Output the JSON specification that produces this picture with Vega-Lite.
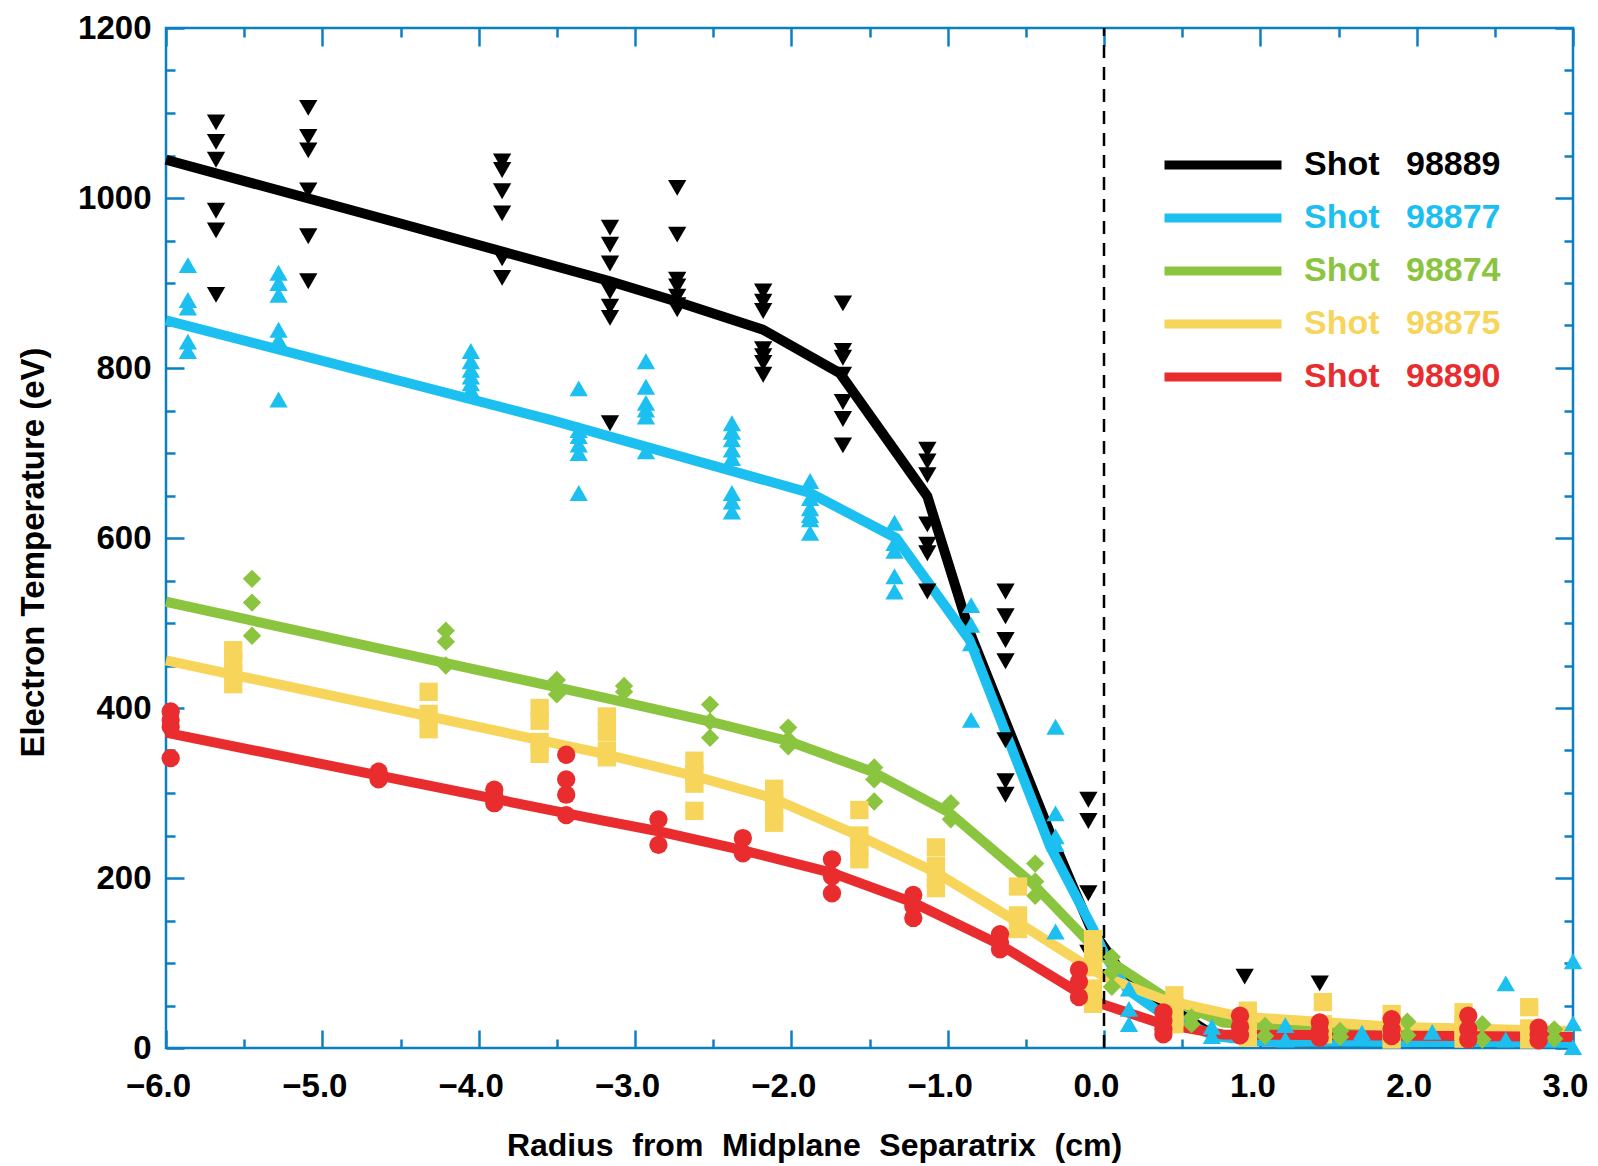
{
  "$schema": "https://vega.github.io/schema/vega-lite/v6.json",
  "width": 1407,
  "height": 1020,
  "autosize": {"type": "none"},
  "padding": {"left": 166, "top": 28, "right": 25, "bottom": 118},
  "background": "white",
  "config": {
    "font": "Liberation Sans",
    "view": {"stroke": "#0a7fc4", "strokeWidth": 2.5},
    "axis": {
      "domain": false,
      "grid": false,
      "tickColor": "#0a7fc4",
      "tickWidth": 2.5,
      "labelFont": "Liberation Sans",
      "labelFontSize": 33,
      "labelFontWeight": "bold",
      "labelColor": "#000000",
      "labelFlush": false,
      "titleFont": "Liberation Sans",
      "titleFontSize": 32,
      "titleFontWeight": "bold",
      "titleColor": "#000000"
    }
  },
  "datasets": {
    "fits": [
      {"shot": "98889", "r": -6.0, "te": 1045}, {"shot": "98889", "r": -4.5, "te": 970}, {"shot": "98889", "r": -3.16, "te": 902},
      {"shot": "98889", "r": -2.73, "te": 878}, {"shot": "98889", "r": -2.18, "te": 845}, {"shot": "98889", "r": -1.69, "te": 794},
      {"shot": "98889", "r": -1.13, "te": 649}, {"shot": "98889", "r": -0.86, "te": 490}, {"shot": "98889", "r": -0.345, "te": 253},
      {"shot": "98889", "r": -0.09, "te": 143}, {"shot": "98889", "r": 0.1, "te": 92}, {"shot": "98889", "r": 0.36, "te": 55},
      {"shot": "98889", "r": 0.7, "te": 15}, {"shot": "98889", "r": 1.0, "te": 8}, {"shot": "98889", "r": 3.0, "te": 6},

      {"shot": "98877", "r": -6.0, "te": 856}, {"shot": "98877", "r": -3.54, "te": 739}, {"shot": "98877", "r": -1.88, "te": 653},
      {"shot": "98877", "r": -1.33, "te": 600}, {"shot": "98877", "r": -0.86, "te": 480}, {"shot": "98877", "r": -0.345, "te": 237},
      {"shot": "98877", "r": -0.07, "te": 140}, {"shot": "98877", "r": 0.01, "te": 108}, {"shot": "98877", "r": 0.15, "te": 69},
      {"shot": "98877", "r": 0.35, "te": 43}, {"shot": "98877", "r": 0.71, "te": 14}, {"shot": "98877", "r": 1.0, "te": 8},
      {"shot": "98877", "r": 3.0, "te": 6},

      {"shot": "98874", "r": -6.0, "te": 525}, {"shot": "98874", "r": -3.22, "te": 413}, {"shot": "98874", "r": -2.52, "te": 384},
      {"shot": "98874", "r": -2.02, "te": 361}, {"shot": "98874", "r": -1.48, "te": 325}, {"shot": "98874", "r": -0.99, "te": 277},
      {"shot": "98874", "r": -0.46, "te": 194}, {"shot": "98874", "r": -0.11, "te": 127}, {"shot": "98874", "r": 0.03, "te": 103},
      {"shot": "98874", "r": 0.38, "te": 61}, {"shot": "98874", "r": 0.76, "te": 30}, {"shot": "98874", "r": 1.5, "te": 22},
      {"shot": "98874", "r": 3.0, "te": 18},

      {"shot": "98875", "r": -6.0, "te": 456}, {"shot": "98875", "r": -3.22, "te": 347}, {"shot": "98875", "r": -2.62, "te": 320},
      {"shot": "98875", "r": -2.12, "te": 294}, {"shot": "98875", "r": -1.56, "te": 249}, {"shot": "98875", "r": -1.07, "te": 206},
      {"shot": "98875", "r": -0.57, "te": 150}, {"shot": "98875", "r": -0.14, "te": 100}, {"shot": "98875", "r": 0.0, "te": 84},
      {"shot": "98875", "r": 0.38, "te": 57}, {"shot": "98875", "r": 0.87, "te": 37}, {"shot": "98875", "r": 1.85, "te": 25},
      {"shot": "98875", "r": 3.0, "te": 20},

      {"shot": "98890", "r": -6.0, "te": 371}, {"shot": "98890", "r": -3.22, "te": 268}, {"shot": "98890", "r": -2.85, "te": 255},
      {"shot": "98890", "r": -2.32, "te": 233}, {"shot": "98890", "r": -1.74, "te": 206}, {"shot": "98890", "r": -1.22, "te": 171},
      {"shot": "98890", "r": -0.67, "te": 122}, {"shot": "98890", "r": -0.16, "te": 65}, {"shot": "98890", "r": 0.0, "te": 51},
      {"shot": "98890", "r": 0.36, "te": 29}, {"shot": "98890", "r": 0.76, "te": 16}, {"shot": "98890", "r": 3.0, "te": 13}
    ],
    "meas": [
      {"shot": "98889", "r": -5.68, "te": 1089}, {"shot": "98889", "r": -5.68, "te": 1066}, {"shot": "98889", "r": -5.68, "te": 1045},
      {"shot": "98889", "r": -5.68, "te": 985}, {"shot": "98889", "r": -5.68, "te": 962}, {"shot": "98889", "r": -5.68, "te": 886},
      {"shot": "98889", "r": -5.09, "te": 1106}, {"shot": "98889", "r": -5.09, "te": 1072}, {"shot": "98889", "r": -5.09, "te": 1056},
      {"shot": "98889", "r": -5.09, "te": 1009}, {"shot": "98889", "r": -5.09, "te": 955}, {"shot": "98889", "r": -5.09, "te": 902},
      {"shot": "98889", "r": -3.85, "te": 1043}, {"shot": "98889", "r": -3.85, "te": 1033}, {"shot": "98889", "r": -3.85, "te": 1008},
      {"shot": "98889", "r": -3.85, "te": 982}, {"shot": "98889", "r": -3.85, "te": 929}, {"shot": "98889", "r": -3.85, "te": 906},
      {"shot": "98889", "r": -3.16, "te": 965}, {"shot": "98889", "r": -3.16, "te": 945}, {"shot": "98889", "r": -3.16, "te": 923},
      {"shot": "98889", "r": -3.16, "te": 890}, {"shot": "98889", "r": -3.16, "te": 872}, {"shot": "98889", "r": -3.16, "te": 859},
      {"shot": "98889", "r": -3.16, "te": 735},
      {"shot": "98889", "r": -2.73, "te": 1012}, {"shot": "98889", "r": -2.73, "te": 957}, {"shot": "98889", "r": -2.73, "te": 904},
      {"shot": "98889", "r": -2.73, "te": 896}, {"shot": "98889", "r": -2.73, "te": 884}, {"shot": "98889", "r": -2.73, "te": 874},
      {"shot": "98889", "r": -2.73, "te": 869},
      {"shot": "98889", "r": -2.18, "te": 890}, {"shot": "98889", "r": -2.18, "te": 878}, {"shot": "98889", "r": -2.18, "te": 867},
      {"shot": "98889", "r": -2.18, "te": 822}, {"shot": "98889", "r": -2.18, "te": 814}, {"shot": "98889", "r": -2.18, "te": 806},
      {"shot": "98889", "r": -2.18, "te": 792},
      {"shot": "98889", "r": -1.67, "te": 876}, {"shot": "98889", "r": -1.67, "te": 820}, {"shot": "98889", "r": -1.67, "te": 812},
      {"shot": "98889", "r": -1.67, "te": 792}, {"shot": "98889", "r": -1.67, "te": 760}, {"shot": "98889", "r": -1.67, "te": 740},
      {"shot": "98889", "r": -1.67, "te": 709},
      {"shot": "98889", "r": -1.13, "te": 704}, {"shot": "98889", "r": -1.13, "te": 690}, {"shot": "98889", "r": -1.13, "te": 674},
      {"shot": "98889", "r": -1.13, "te": 616}, {"shot": "98889", "r": -1.13, "te": 592}, {"shot": "98889", "r": -1.13, "te": 582},
      {"shot": "98889", "r": -1.13, "te": 537},
      {"shot": "98889", "r": -0.63, "te": 537}, {"shot": "98889", "r": -0.63, "te": 508}, {"shot": "98889", "r": -0.63, "te": 480},
      {"shot": "98889", "r": -0.63, "te": 455}, {"shot": "98889", "r": -0.63, "te": 362}, {"shot": "98889", "r": -0.63, "te": 314},
      {"shot": "98889", "r": -0.63, "te": 298},
      {"shot": "98889", "r": -0.1, "te": 292}, {"shot": "98889", "r": -0.1, "te": 267}, {"shot": "98889", "r": -0.1, "te": 182},
      {"shot": "98889", "r": -0.1, "te": 112},
      {"shot": "98889", "r": 0.45, "te": 48}, {"shot": "98889", "r": 0.9, "te": 84}, {"shot": "98889", "r": 1.38, "te": 76},

      {"shot": "98877", "r": -5.86, "te": 921}, {"shot": "98877", "r": -5.86, "te": 880}, {"shot": "98877", "r": -5.86, "te": 871},
      {"shot": "98877", "r": -5.86, "te": 831}, {"shot": "98877", "r": -5.86, "te": 820},
      {"shot": "98877", "r": -5.28, "te": 912}, {"shot": "98877", "r": -5.28, "te": 900}, {"shot": "98877", "r": -5.28, "te": 886},
      {"shot": "98877", "r": -5.28, "te": 845}, {"shot": "98877", "r": -5.28, "te": 833}, {"shot": "98877", "r": -5.28, "te": 763},
      {"shot": "98877", "r": -4.05, "te": 820}, {"shot": "98877", "r": -4.05, "te": 808}, {"shot": "98877", "r": -4.05, "te": 798},
      {"shot": "98877", "r": -4.05, "te": 790}, {"shot": "98877", "r": -4.05, "te": 782}, {"shot": "98877", "r": -4.05, "te": 774},
      {"shot": "98877", "r": -3.36, "te": 776}, {"shot": "98877", "r": -3.36, "te": 727}, {"shot": "98877", "r": -3.36, "te": 720},
      {"shot": "98877", "r": -3.36, "te": 710}, {"shot": "98877", "r": -3.36, "te": 700}, {"shot": "98877", "r": -3.36, "te": 653},
      {"shot": "98877", "r": -2.93, "te": 808}, {"shot": "98877", "r": -2.93, "te": 778}, {"shot": "98877", "r": -2.93, "te": 759},
      {"shot": "98877", "r": -2.93, "te": 751}, {"shot": "98877", "r": -2.93, "te": 743}, {"shot": "98877", "r": -2.93, "te": 702},
      {"shot": "98877", "r": -2.38, "te": 735}, {"shot": "98877", "r": -2.38, "te": 725}, {"shot": "98877", "r": -2.38, "te": 716},
      {"shot": "98877", "r": -2.38, "te": 704}, {"shot": "98877", "r": -2.38, "te": 694}, {"shot": "98877", "r": -2.38, "te": 653},
      {"shot": "98877", "r": -2.38, "te": 643}, {"shot": "98877", "r": -2.38, "te": 631},
      {"shot": "98877", "r": -1.88, "te": 667}, {"shot": "98877", "r": -1.88, "te": 647}, {"shot": "98877", "r": -1.88, "te": 635},
      {"shot": "98877", "r": -1.88, "te": 627}, {"shot": "98877", "r": -1.88, "te": 622}, {"shot": "98877", "r": -1.88, "te": 606},
      {"shot": "98877", "r": -1.34, "te": 618}, {"shot": "98877", "r": -1.34, "te": 594}, {"shot": "98877", "r": -1.34, "te": 585},
      {"shot": "98877", "r": -1.34, "te": 555}, {"shot": "98877", "r": -1.34, "te": 537},
      {"shot": "98877", "r": -0.85, "te": 521}, {"shot": "98877", "r": -0.85, "te": 498}, {"shot": "98877", "r": -0.85, "te": 476},
      {"shot": "98877", "r": -0.85, "te": 386},
      {"shot": "98877", "r": -0.31, "te": 378}, {"shot": "98877", "r": -0.31, "te": 276}, {"shot": "98877", "r": -0.31, "te": 249},
      {"shot": "98877", "r": -0.31, "te": 240}, {"shot": "98877", "r": -0.31, "te": 137},
      {"shot": "98877", "r": 0.16, "te": 70}, {"shot": "98877", "r": 0.16, "te": 46}, {"shot": "98877", "r": 0.16, "te": 28},
      {"shot": "98877", "r": 0.69, "te": 25}, {"shot": "98877", "r": 0.69, "te": 14},
      {"shot": "98877", "r": 1.16, "te": 27}, {"shot": "98877", "r": 1.16, "te": 10},
      {"shot": "98877", "r": 1.65, "te": 18}, {"shot": "98877", "r": 1.65, "te": 12},
      {"shot": "98877", "r": 2.1, "te": 19},
      {"shot": "98877", "r": 2.57, "te": 76}, {"shot": "98877", "r": 2.57, "te": 10},
      {"shot": "98877", "r": 3.0, "te": 102}, {"shot": "98877", "r": 3.0, "te": 29}, {"shot": "98877", "r": 3.0, "te": 1},

      {"shot": "98874", "r": -5.45, "te": 552}, {"shot": "98874", "r": -5.45, "te": 524}, {"shot": "98874", "r": -5.45, "te": 485},
      {"shot": "98874", "r": -4.21, "te": 491}, {"shot": "98874", "r": -4.21, "te": 478}, {"shot": "98874", "r": -4.21, "te": 450},
      {"shot": "98874", "r": -3.5, "te": 433}, {"shot": "98874", "r": -3.5, "te": 424}, {"shot": "98874", "r": -3.5, "te": 416},
      {"shot": "98874", "r": -3.07, "te": 426}, {"shot": "98874", "r": -3.07, "te": 419},
      {"shot": "98874", "r": -2.52, "te": 404}, {"shot": "98874", "r": -2.52, "te": 384}, {"shot": "98874", "r": -2.52, "te": 365},
      {"shot": "98874", "r": -2.02, "te": 377}, {"shot": "98874", "r": -2.02, "te": 363}, {"shot": "98874", "r": -2.02, "te": 355},
      {"shot": "98874", "r": -1.47, "te": 330}, {"shot": "98874", "r": -1.47, "te": 316}, {"shot": "98874", "r": -1.47, "te": 290},
      {"shot": "98874", "r": -0.98, "te": 288}, {"shot": "98874", "r": -0.98, "te": 269},
      {"shot": "98874", "r": -0.44, "te": 217}, {"shot": "98874", "r": -0.44, "te": 196}, {"shot": "98874", "r": -0.44, "te": 179},
      {"shot": "98874", "r": 0.05, "te": 107}, {"shot": "98874", "r": 0.05, "te": 89}, {"shot": "98874", "r": 0.05, "te": 72},
      {"shot": "98874", "r": 0.56, "te": 36}, {"shot": "98874", "r": 0.56, "te": 28},
      {"shot": "98874", "r": 1.03, "te": 26}, {"shot": "98874", "r": 1.03, "te": 14},
      {"shot": "98874", "r": 1.51, "te": 20}, {"shot": "98874", "r": 1.51, "te": 13},
      {"shot": "98874", "r": 1.94, "te": 31}, {"shot": "98874", "r": 1.94, "te": 15},
      {"shot": "98874", "r": 2.42, "te": 28}, {"shot": "98874", "r": 2.42, "te": 10},
      {"shot": "98874", "r": 2.88, "te": 22}, {"shot": "98874", "r": 2.88, "te": 11},

      {"shot": "98875", "r": -5.57, "te": 468}, {"shot": "98875", "r": -5.57, "te": 455}, {"shot": "98875", "r": -5.57, "te": 440},
      {"shot": "98875", "r": -5.57, "te": 428},
      {"shot": "98875", "r": -4.32, "te": 419}, {"shot": "98875", "r": -4.32, "te": 393}, {"shot": "98875", "r": -4.32, "te": 375},
      {"shot": "98875", "r": -3.61, "te": 400}, {"shot": "98875", "r": -3.61, "te": 385}, {"shot": "98875", "r": -3.61, "te": 360},
      {"shot": "98875", "r": -3.61, "te": 346},
      {"shot": "98875", "r": -3.18, "te": 390}, {"shot": "98875", "r": -3.18, "te": 372}, {"shot": "98875", "r": -3.18, "te": 350},
      {"shot": "98875", "r": -3.18, "te": 342},
      {"shot": "98875", "r": -2.62, "te": 338}, {"shot": "98875", "r": -2.62, "te": 322}, {"shot": "98875", "r": -2.62, "te": 311},
      {"shot": "98875", "r": -2.62, "te": 279},
      {"shot": "98875", "r": -2.11, "te": 305}, {"shot": "98875", "r": -2.11, "te": 292}, {"shot": "98875", "r": -2.11, "te": 276},
      {"shot": "98875", "r": -2.11, "te": 265},
      {"shot": "98875", "r": -1.565, "te": 280}, {"shot": "98875", "r": -1.565, "te": 250}, {"shot": "98875", "r": -1.565, "te": 236},
      {"shot": "98875", "r": -1.565, "te": 222},
      {"shot": "98875", "r": -1.075, "te": 236}, {"shot": "98875", "r": -1.075, "te": 214}, {"shot": "98875", "r": -1.075, "te": 200},
      {"shot": "98875", "r": -1.075, "te": 188},
      {"shot": "98875", "r": -0.55, "te": 190}, {"shot": "98875", "r": -0.55, "te": 156}, {"shot": "98875", "r": -0.55, "te": 140},
      {"shot": "98875", "r": -0.07, "te": 128}, {"shot": "98875", "r": -0.07, "te": 110}, {"shot": "98875", "r": -0.07, "te": 95},
      {"shot": "98875", "r": -0.07, "te": 70}, {"shot": "98875", "r": -0.07, "te": 52},
      {"shot": "98875", "r": 0.45, "te": 62}, {"shot": "98875", "r": 0.45, "te": 48}, {"shot": "98875", "r": 0.45, "te": 36},
      {"shot": "98875", "r": 0.45, "te": 28},
      {"shot": "98875", "r": 0.92, "te": 44}, {"shot": "98875", "r": 0.92, "te": 30}, {"shot": "98875", "r": 0.92, "te": 18},
      {"shot": "98875", "r": 0.92, "te": 12},
      {"shot": "98875", "r": 1.4, "te": 54}, {"shot": "98875", "r": 1.4, "te": 28}, {"shot": "98875", "r": 1.4, "te": 16},
      {"shot": "98875", "r": 1.84, "te": 40}, {"shot": "98875", "r": 1.84, "te": 28}, {"shot": "98875", "r": 1.84, "te": 18},
      {"shot": "98875", "r": 1.84, "te": 10},
      {"shot": "98875", "r": 2.3, "te": 42}, {"shot": "98875", "r": 2.3, "te": 28}, {"shot": "98875", "r": 2.3, "te": 20},
      {"shot": "98875", "r": 2.3, "te": 11},
      {"shot": "98875", "r": 2.72, "te": 48}, {"shot": "98875", "r": 2.72, "te": 23}, {"shot": "98875", "r": 2.72, "te": 10},

      {"shot": "98890", "r": -5.97, "te": 396}, {"shot": "98890", "r": -5.97, "te": 386}, {"shot": "98890", "r": -5.97, "te": 378},
      {"shot": "98890", "r": -5.97, "te": 341},
      {"shot": "98890", "r": -4.64, "te": 325}, {"shot": "98890", "r": -4.64, "te": 316},
      {"shot": "98890", "r": -3.9, "te": 304}, {"shot": "98890", "r": -3.9, "te": 296}, {"shot": "98890", "r": -3.9, "te": 288},
      {"shot": "98890", "r": -3.44, "te": 345}, {"shot": "98890", "r": -3.44, "te": 316}, {"shot": "98890", "r": -3.44, "te": 298},
      {"shot": "98890", "r": -3.44, "te": 274},
      {"shot": "98890", "r": -2.85, "te": 269}, {"shot": "98890", "r": -2.85, "te": 239},
      {"shot": "98890", "r": -2.31, "te": 247}, {"shot": "98890", "r": -2.31, "te": 229},
      {"shot": "98890", "r": -1.74, "te": 222}, {"shot": "98890", "r": -1.74, "te": 202}, {"shot": "98890", "r": -1.74, "te": 182},
      {"shot": "98890", "r": -1.22, "te": 180}, {"shot": "98890", "r": -1.22, "te": 167}, {"shot": "98890", "r": -1.22, "te": 153},
      {"shot": "98890", "r": -0.665, "te": 134}, {"shot": "98890", "r": -0.665, "te": 124}, {"shot": "98890", "r": -0.665, "te": 116},
      {"shot": "98890", "r": -0.16, "te": 92}, {"shot": "98890", "r": -0.16, "te": 78}, {"shot": "98890", "r": -0.16, "te": 60},
      {"shot": "98890", "r": 0.38, "te": 42}, {"shot": "98890", "r": 0.38, "te": 32}, {"shot": "98890", "r": 0.38, "te": 22},
      {"shot": "98890", "r": 0.38, "te": 16},
      {"shot": "98890", "r": 0.87, "te": 38}, {"shot": "98890", "r": 0.87, "te": 25}, {"shot": "98890", "r": 0.87, "te": 15},
      {"shot": "98890", "r": 1.38, "te": 30}, {"shot": "98890", "r": 1.38, "te": 20}, {"shot": "98890", "r": 1.38, "te": 12},
      {"shot": "98890", "r": 1.84, "te": 34}, {"shot": "98890", "r": 1.84, "te": 22}, {"shot": "98890", "r": 1.84, "te": 14},
      {"shot": "98890", "r": 2.33, "te": 38}, {"shot": "98890", "r": 2.33, "te": 22}, {"shot": "98890", "r": 2.33, "te": 10},
      {"shot": "98890", "r": 2.78, "te": 24}, {"shot": "98890", "r": 2.78, "te": 16}, {"shot": "98890", "r": 2.78, "te": 9}
    ],
    "separatrix": [{"r": 0, "lo": 0, "hi": 1200}]
  },
  "layer": [
    {
      "data": {"name": "fits"},
      "mark": {"type": "line", "strokeWidth": 10},
      "encoding": {
        "x": {
          "field": "r", "type": "quantitative",
          "scale": {"domain": [-6, 3], "nice": false, "zero": false},
          "axis": {
            "orient": "bottom",
            "values": [-6, -5, -4, -3, -2, -1, 0, 1, 2, 3],
            "format": ".1f",
            "tickSize": -18,
            "labelPadding": 40,
            "labelOffset": -8,
            "title": "Radius\u2002\u200afrom\u2002\u200aMidplane\u2002\u200aSeparatrix\u2002\u200a(cm)",
            "titleX": 648,
            "titleY": 107,
            "titleAlign": "center",
            "titleBaseline": "alphabetic"
          }
        },
        "y": {
          "field": "te", "type": "quantitative",
          "scale": {"domain": [0, 1200], "nice": false, "zero": false},
          "axis": {
            "orient": "left",
            "values": [0, 200, 400, 600, 800, 1000, 1200],
            "format": "d",
            "tickSize": -18,
            "labelPadding": 33,
            "title": "Electron Temperature (eV)",
            "titleFontSize": 33,
            "titleAngle": 270,
            "titleX": -123,
            "titleY": 524,
            "titleAlign": "center",
            "titleBaseline": "alphabetic"
          }
        },
        "color": {
          "field": "shot", "type": "nominal",
          "scale": {
            "domain": ["98889", "98877", "98874", "98875", "98890"],
            "range": ["#000000", "#1cc0f0", "#8bc53f", "#f7d45a", "#e92d2f"]
          },
          "legend": {
            "orient": "none",
            "legendX": 994,
            "legendY": 117,
            "title": null,
            "padding": 0,
            "symbolType": "stroke",
            "symbolSize": 13689,
            "symbolStrokeWidth": 9,
            "clipHeight": 40,
            "rowPadding": 13,
            "labelOffset": 18,
            "labelLimit": 400,
            "labelFont": "Liberation Sans",
            "labelFontSize": 34,
            "labelFontWeight": "bold",
            "labelExpr": "'Shot\u2002 ' + datum.label",
            "encode": {"labels": {"update": {"fill": {"scale": "color", "field": "value"}}}}
          }
        }
      }
    },
    {
      "data": {"name": "separatrix"},
      "mark": {"type": "rule", "color": "#000000", "strokeWidth": 2.5, "strokeDash": [13, 9]},
      "encoding": {
        "x": {
          "field": "r", "type": "quantitative",
          "axis": {"orient": "top", "values": [-6, -5, -4, -3, -2, -1, 0, 1, 2, 3], "tickSize": -18, "labels": false, "title": null}
        },
        "y": {
          "field": "lo", "type": "quantitative",
          "axis": {"orient": "right", "values": [0, 200, 400, 600, 800, 1000, 1200], "tickSize": -18, "labels": false, "title": null}
        },
        "y2": {"field": "hi"}
      }
    },
    {
      "data": {"name": "meas"},
      "mark": {"type": "point", "filled": true, "opacity": 1, "size": 335, "strokeWidth": 0},
      "encoding": {
        "x": {
          "field": "r", "type": "quantitative",
          "axis": {"orient": "bottom", "values": [-5.5, -4.5, -3.5, -2.5, -1.5, -0.5, 0.5, 1.5, 2.5], "tickSize": -9, "labels": false, "title": null}
        },
        "y": {
          "field": "te", "type": "quantitative",
          "axis": {
            "orient": "left",
            "values": [50, 100, 150, 250, 300, 350, 450, 500, 550, 650, 700, 750, 850, 900, 950, 1050, 1100, 1150],
            "tickSize": -9, "labels": false, "title": null
          }
        },
        "color": {"field": "shot", "type": "nominal", "legend": null},
        "shape": {
          "field": "shot", "type": "nominal",
          "scale": {"range": ["diamond", "square", "triangle-up", "triangle-down", "circle"]},
          "legend": null
        }
      }
    },
    {
      "data": {"name": "separatrix"},
      "mark": {"type": "rule", "opacity": 0},
      "encoding": {
        "x": {
          "field": "r", "type": "quantitative",
          "axis": {"orient": "top", "values": [-5.5, -4.5, -3.5, -2.5, -1.5, -0.5, 0.5, 1.5, 2.5], "tickSize": -9, "labels": false, "title": null}
        },
        "y": {
          "field": "lo", "type": "quantitative",
          "axis": {
            "orient": "right",
            "values": [50, 100, 150, 250, 300, 350, 450, 500, 550, 650, 700, 750, 850, 900, 950, 1050, 1100, 1150],
            "tickSize": -9, "labels": false, "title": null
          }
        },
        "y2": {"field": "hi"}
      }
    }
  ],
  "resolve": {"axis": {"x": "independent", "y": "independent"}}
}
